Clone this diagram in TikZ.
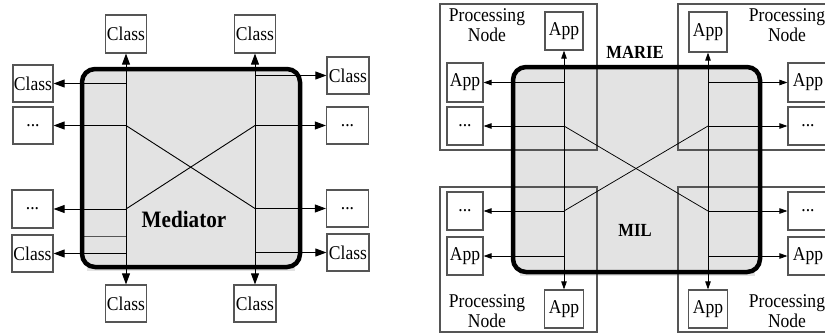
\documentclass[tikz,border=0pt]{standalone}
\usepackage{fontspec}
\setmainfont[FakeStretch=0.9]{Liberation Serif}
\usetikzlibrary{arrows.meta}
\definecolor{medfill}{RGB}{227,227,227}
\definecolor{edgegray}{RGB}{85,85,85}
\tikzset{
  lbl/.style={font=\fontsize{19.5}{20}\selectfont},
  cbox/.style={draw=edgegray, line width=1.2pt, fill=white, inner sep=0pt, lbl},
  pnbox/.style={draw=edgegray, line width=1.1pt, inner sep=0pt},
  hub/.style={draw=black, line width=4.5pt, rounded corners=13pt},
  conn/.style={draw=black, line width=0.9pt},
  tipbig/.tip={Triangle[length=11pt,width=8pt]},
  tipsmall/.tip={Triangle[length=8pt,width=5.5pt]},
  title/.style={font=\bfseries\fontsize{23.5}{26}\selectfont},
  subtitle/.style={font=\bfseries\fontsize{18.5}{20}\selectfont},
}
\begin{document}
\begin{tikzpicture}[x=1pt,y=-1pt]
\useasboundingbox (0,0) rectangle (825,335);
\clip (0,0) rectangle (825,335);

% ---------------- Mediator ----------------
\fill[medfill] (87,80) rectangle (295,271);
\path[fill=medfill, rounded corners=13pt] (82,69) rectangle (300,267);

\node[cbox, minimum width=41pt, minimum height=38pt] (A1) at (126,34) {Class};
\node[cbox, minimum width=41pt, minimum height=38pt] (A2) at (255,34) {Class};
\node[cbox, minimum width=41pt, minimum height=37pt] (B1) at (126,303.5) {Class};
\node[cbox, minimum width=42pt, minimum height=37pt] (B2) at (255,303.5) {Class};

\node[cbox, minimum width=40pt, minimum height=37pt] (L1) at (33,83.5) {Class};
\node[cbox, minimum width=40pt, minimum height=37pt] (L2) at (33,125.5) {...};
\node[cbox, minimum width=41pt, minimum height=38pt] (L3) at (32.5,209) {...};
\node[cbox, minimum width=41pt, minimum height=37pt] (L4) at (32.5,253.5) {Class};

\node[cbox, minimum width=42pt, minimum height=37pt] (R1) at (348,75.5) {Class};
\node[cbox, minimum width=42pt, minimum height=37pt] (R2) at (347.5,125.5) {...};
\node[cbox, minimum width=42pt, minimum height=37pt] (R3) at (347.5,208.5) {...};
\node[cbox, minimum width=42pt, minimum height=37pt] (R4) at (348,252.5) {Class};

\coordinate (faintA) at (84,236);
\draw[edgegray, line width=0.8pt] (faintA) -- (A1.south |- faintA);

\draw[conn, tipbig-tipbig] (B1.north) -- (A1.south);
\draw[conn, tipbig-tipbig] (B2.north) -- (A2.south);
\draw[conn, -tipbig] (A1.south |- L1.east) -- (L1.east);
\draw[conn, -tipbig] (A1.south |- L2.east) -- (L2.east);
\draw[conn, -tipbig] (A1.south |- L3.east) -- (L3.east);
\draw[conn, -tipbig] (A1.south |- L4.east) -- (L4.east);
\draw[conn, -tipbig] (A2.south |- R1.west) -- (R1.west);
\draw[conn, -tipbig] (A2.south |- R2.west) -- (R2.west);
\draw[conn, -tipbig] (A2.south |- R3.west) -- (R3.west);
\draw[conn, -tipbig] (A2.south |- R4.west) -- (R4.west);
\draw[conn] (A1.south |- L2.east) -- (A2.south |- R3.west);
\draw[conn] (A2.south |- R2.west) -- (A1.south |- L3.east);

\draw[hub] (82,69) rectangle (300,267);
\node[title] (med) at (184,219) {Mediator};

% ---------------- MARIE ----------------
\fill[medfill] (520,80) rectangle (755,276);
\path[fill=medfill, rounded corners=15pt] (513,67) rectangle (760,272);

\node[pnbox, minimum width=157pt, minimum height=146pt] (N1) at (518.5,77) {};
\node[pnbox, minimum width=160pt, minimum height=146pt] (N2) at (758,77) {};
\node[pnbox, minimum width=157pt, minimum height=145pt] (N3) at (518.5,259.5) {};
\node[pnbox, minimum width=160pt, minimum height=145pt] (N4) at (758,259.5) {};

\node[lbl, align=center] (t1) at (487,25) {Processing\\Node};
\node[lbl, align=center] (t2) at (787,25) {Processing\\Node};
\node[lbl, align=center] (t3) at (487,311) {Processing\\Node};
\node[lbl, align=center] (t4) at (787,311) {Processing\\Node};

\node[cbox, minimum width=38pt, minimum height=38pt] (P1) at (564,31) {App};
\node[cbox, minimum width=38pt, minimum height=40pt] (P2) at (708,32) {App};
\node[cbox, minimum width=39pt, minimum height=38pt] (Q1) at (564,309) {App};
\node[cbox, minimum width=39pt, minimum height=38pt] (Q2) at (708,309) {App};

\node[cbox, minimum width=36pt, minimum height=39pt] (LA1) at (465,82.5) {App};
\node[cbox, minimum width=36pt, minimum height=38pt] (LD1) at (465,126) {...};
\node[cbox, minimum width=36pt, minimum height=38pt] (LD2) at (465,211) {...};
\node[cbox, minimum width=36pt, minimum height=38pt] (LA2) at (465,256) {App};

\node[cbox, minimum width=40pt, minimum height=39pt] (RA1) at (808,82.5) {App};
\node[cbox, minimum width=40pt, minimum height=38pt] (RD1) at (808,126) {...};
\node[cbox, minimum width=40pt, minimum height=38pt] (RD2) at (808,211) {...};
\node[cbox, minimum width=40pt, minimum height=38pt] (RA2) at (808,256) {App};

\draw[conn, line width=0.75pt, tipsmall-tipsmall] (Q1.north) -- (P1.south);
\draw[conn, line width=0.75pt, tipsmall-tipsmall] (Q2.north) -- (P2.south);
\draw[conn, line width=0.75pt, -tipsmall] (P1.south |- LA1.east) -- (LA1.east);
\draw[conn, line width=0.75pt, -tipsmall] (P1.south |- LD1.east) -- (LD1.east);
\draw[conn, line width=0.75pt, -tipsmall] (P1.south |- LD2.east) -- (LD2.east);
\draw[conn, line width=0.75pt, -tipsmall] (P1.south |- LA2.east) -- (LA2.east);
\draw[conn, line width=0.75pt, -tipsmall] (P2.south |- RA1.west) -- (RA1.west);
\draw[conn, line width=0.75pt, -tipsmall] (P2.south |- RD1.west) -- (RD1.west);
\draw[conn, line width=0.75pt, -tipsmall] (P2.south |- RD2.west) -- (RD2.west);
\draw[conn, line width=0.75pt, -tipsmall] (P2.south |- RA2.west) -- (RA2.west);
\draw[conn, line width=0.75pt] (P1.south |- LD1.east) -- (P2.south |- RD2.west);
\draw[conn, line width=0.75pt] (P2.south |- RD1.west) -- (P1.south |- LD2.east);

\draw[hub] (513,67) rectangle (760,272);
\node[subtitle] (marie) at (635,52) {MARIE};
\node[subtitle] (mil) at (635,230) {MIL};
\end{tikzpicture}
\end{document}
